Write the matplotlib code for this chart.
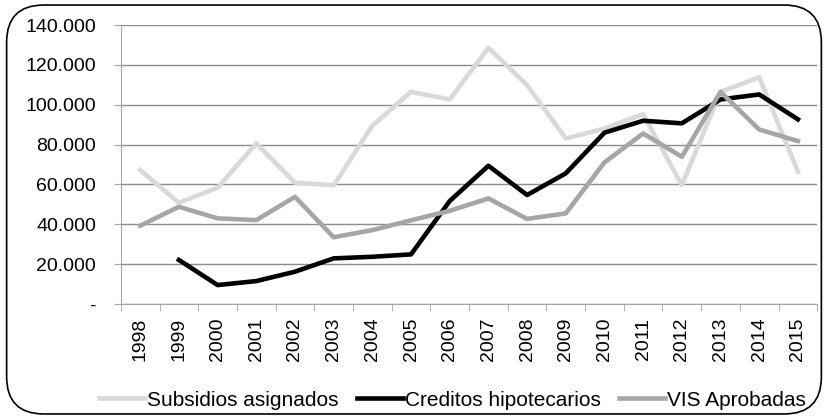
import matplotlib.pyplot as plt
import numpy as np
from matplotlib.patches import FancyBboxPatch
from matplotlib.ticker import FuncFormatter, FixedLocator

plt.rcParams['font.family'] = ['Liberation Sans', 'DejaVu Sans']

years = [str(y) for y in range(1998, 2016)]
subsidios = [67200, 50800, 58400, 80600, 60900, 59600, 89500, 106500, 102700,
             128600, 109900, 83100, 88100, 95300, 59700, 106500, 113800, 66400]
creditos = [np.nan, 22100, 9500, 11500, 16200, 22900, 23700, 24900, 51700,
            69400, 54700, 65600, 86000, 92000, 90700, 102700, 105200, 92700]
vis = [39300, 48800, 43000, 42100, 53800, 33500, 37100, 42000, 46800,
       53000, 42700, 45500, 71100, 85600, 73900, 106500, 87600, 81800]

fig = plt.figure(figsize=(8.28, 4.19), dpi=100)
ax = fig.add_axes([0.146, 0.2745, 0.841, 0.6655])

x = np.arange(len(years))
ax.plot(x, subsidios, color='#d9d9d9', lw=3.3, label='Subsidios asignados')
ax.plot(x, creditos, color='black', lw=3.3, label='Creditos hipotecarios')
ax.plot(x, vis, color='#a6a6a6', lw=3.3, label='VIS Aprobadas')

ax.set_xlim(-0.5, len(years) - 0.5)
ax.set_ylim(0, 140000)
ax.set_yticks(np.arange(0, 140001, 20000))
ax.yaxis.set_major_formatter(FuncFormatter(
    lambda v, p: '-' if v == 0 else f'{int(v):,}'.replace(',', '.')))
ax.grid(axis='y', color='#8c8c8c', lw=1)
ax.set_axisbelow(True)

ax.set_xticks(x)
ax.set_xticklabels(years, rotation=90, fontsize=14)
ax.xaxis.set_minor_locator(FixedLocator(np.arange(-0.5, len(years), 1)))
ax.tick_params(axis='x', which='major', length=0, pad=10)
ax.tick_params(axis='x', which='minor', length=5, color='#a6a6a6')
ax.tick_params(axis='y', length=5, color='#a6a6a6', labelsize=14, pad=13)

for s in ['top', 'right']:
    ax.spines[s].set_visible(False)
ax.spines['left'].set_color('#a6a6a6')
ax.spines['bottom'].set_color('#a6a6a6')

leg = fig.legend(loc='center', bbox_to_anchor=(0.5465, 0.045), ncol=3, frameon=False,
                 prop={'size': 15}, handlelength=2.2, handletextpad=0.1,
                 columnspacing=0.9)

box = FancyBboxPatch((0.008, 0.012), 0.984, 0.976, boxstyle='round,pad=0,rounding_size=0.045',
                     transform=fig.transFigure, fill=False, ec='black', lw=1.2,
                     mutation_aspect=828 / 419)
fig.patches.append(box)

fig.savefig('out.png', dpi=100)
